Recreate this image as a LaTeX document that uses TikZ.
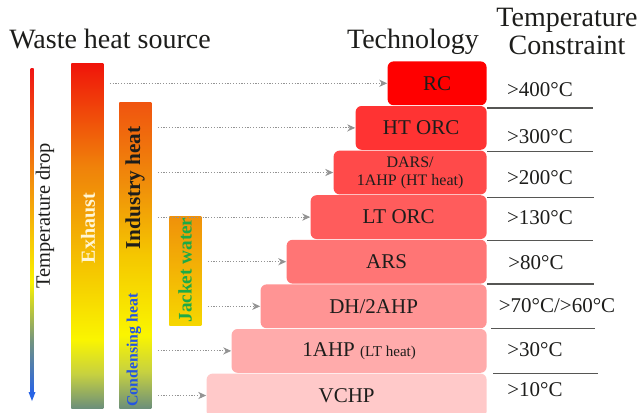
\documentclass[tikz,border=0pt]{standalone}
\usepackage{fontspec}
\setmainfont{Liberation Serif}
\usetikzlibrary{positioning,arrows.meta}
\definecolor{colortext}  {RGB}{29 ,29 ,27 }
\definecolor{colorcream} {RGB}{255,246,214}
\definecolor{colorcond}  {RGB}{35 ,85 ,225}
\definecolor{colorjacket}{RGB}{30 ,170,70 }
\definecolor{colorblue}  {RGB}{40 ,100,230}
\definecolor{colorjtop}  {RGB}{240,145,10 }
\definecolor{colorjbot}  {RGB}{246,215,0  }

% gradients for the heat sources (path is mapped on 25bp..75bp)
\pgfdeclareverticalshading{dropgrad}{100bp}{rgb(0bp)=(0.16,0.39,0.9); rgb(25bp)=(0.16,0.39,0.9); rgb(33bp)=(0.45,0.58,0.5); rgb(42bp)=(0.98,0.95,0); rgb(58bp)=(0.95,0.55,0.05); rgb(75bp)=(0.94,0.08,0.08); rgb(100bp)=(0.94,0.08,0.08)}
\pgfdeclareverticalshading{exhaustgrad}{100bp}{rgb(0bp)=(0.42,0.56,0.48); rgb(25bp)=(0.42,0.56,0.48); rgb(30bp)=(0.78,0.82,0.25); rgb(35bp)=(0.98,0.96,0); rgb(45bp)=(0.96,0.78,0); rgb(60bp)=(0.94,0.51,0.04); rgb(75bp)=(0.94,0.08,0.04); rgb(100bp)=(0.94,0.08,0.04)}
\pgfdeclareverticalshading{industrygrad}{100bp}{rgb(0bp)=(0.42,0.56,0.48); rgb(25bp)=(0.42,0.56,0.48); rgb(31bp)=(0.78,0.82,0.25); rgb(37bp)=(0.98,0.96,0); rgb(50bp)=(0.96,0.78,0); rgb(62bp)=(0.94,0.55,0.04); rgb(75bp)=(0.94,0.33,0.06); rgb(100bp)=(0.94,0.33,0.06)}

\begin{document}
\begin{tikzpicture}[
    x=0.5pt, y=-0.5pt,
    head/.style={text=colortext,font={\fontsize{14}{14}\selectfont},inner sep=0pt},
    bar/.style={inner sep=0pt,minimum width=16pt,anchor=north west},
    bartxt/.style={rotate=90,inner sep=0pt,font={\bfseries}},
    tech/.style={rounded corners=3pt,inner sep=0pt,minimum height=21.9pt,text=colortext,font={\fontsize{10.5}{12}\selectfont},align=center},
    cons/.style={text=colortext,font={\fontsize{10.5}{12}\selectfont},inner sep=0pt},
    rule/.style={draw=colortext!75,line width=0.6pt},
    flow/.style={draw=gray!85,line width=0.45pt,dash pattern=on 0.6pt off 0.8pt,-{Stealth[length=4pt,width=3.6pt]},shorten <=3pt},
]
    \useasboundingbox (0,0) rectangle (640,412);

    % Headings
    \node[head,anchor=base] (srchead)  at (110,48) {Waste heat source};
    \node[head,anchor=base] (techhead) at (413,48) {Technology};
    \node[head,anchor=north,align=center] (conshead) at (567,8) {Temperature\\Constraint};

    % Temperature drop arrow
    \shade[shading=dropgrad] (30.5,68) rectangle (33.5,393);
    \fill[colorblue] (28.5,392) -- (35.5,392) -- (32,401) -- cycle;
    \node[rotate=90,inner sep=0pt,text=colortext,font={\fontsize{10.2}{12}\selectfont}] (droptxt) at (45,216) {Temperature drop};

    % Heat source bars
    \node[bar,shading=exhaustgrad,minimum height=172.5pt] (exhaust) at (71,63) {};
    \node[bar,shading=industrygrad,minimum height=153pt] (industry) at (119,102) {};
    \node[bar,top color=colorjtop,bottom color=colorjbot,minimum height=54.5pt] (jacket) at (169,216) {};
    \node[bartxt,text=colorcream,font={\bfseries\fontsize{10}{12}\selectfont}] (exhausttxt) at (88,228) {Exhaust};
    \node[bartxt,text=colortext,font={\bfseries\fontsize{10.6}{12}\selectfont}] (industrytxt) at (135,188) {Industry heat};
    \node[bartxt,text=colorcond,font={\bfseries\fontsize{7.9}{10}\selectfont}] (condtxt) at (134,350) {Condensing heat};
    \node[bartxt,text=colorjacket,font={\bfseries\fontsize{9.6}{12}\selectfont}] (jackettxt) at (185,270) {Jacket water};

    % Technology stair
    \node[tech,fill=red,minimum width=49.5pt,anchor=north east] (rc) at (487,61) {RC};
    \node[tech,fill=red!80,minimum width=65.5pt,below left=0pt of rc.south east] (htorc) {HT ORC};
    \node[tech,fill=red!71,minimum width=76.5pt,below left=0pt of htorc.south east,font={\fontsize{8}{9}\selectfont}] (dars) {DARS/\\1AHP (HT heat)};
    \node[tech,fill=red!64,minimum width=88pt,below left=0pt of dars.south east] (ltorc) {LT ORC};
    \node[tech,fill=red!54,minimum width=100pt,below left=0pt of ltorc.south east] (ars) {ARS};
    \node[tech,fill=red!42,minimum width=113pt,below left=0pt of ars.south east] (dh) {DH/2AHP};
    \node[tech,fill=red!33,minimum width=127.5pt,below left=0pt of dh.south east] (ahp) {1AHP {\fontsize{7.5}{9}\selectfont(LT heat)}};
    \node[tech,fill=red!21,minimum width=140pt,below left=0pt of ahp.south east] (vchp) {VCHP};

    % Source to technology
    \draw[flow] (exhaust.east |- rc.west) -- (rc.west);
    \draw[flow] (industry.east |- htorc.west) -- (htorc.west);
    \draw[flow] (industry.east |- dars.west) -- (dars.west);
    \draw[flow] (industry.east |- ltorc.west) -- (ltorc.west);
    \draw[flow] (jacket.east |- ars.west) -- (ars.west);
    \draw[flow] (jacket.east |- dh.west) -- (dh.west);
    \draw[flow] (industry.east |- ahp.west) -- (ahp.west);
    \draw[flow] (industry.east |- vchp.west) -- (vchp.west);

    % Temperature constraints
    \node[cons] (c400) at (540,90) {>400°C};
    \node[cons] (c300) at (540,137) {>300°C};
    \node[cons] (c200) at (540,178) {>200°C};
    \node[cons] (c130) at (540,218) {>130°C};
    \node[cons] (c80)  at (536,263) {>80°C};
    \node[cons] (c70)  at (557,306) {>70°C/>60°C};
    \node[cons] (c30)  at (535,350) {>30°C};
    \node[cons] (c10)  at (535,390) {>10°C};
    \draw[rule] ([yshift=-1.2pt]rc.south east) -- ++(106,0);
    \draw[rule] ([yshift=-0.8pt]htorc.south east) -- ++(106,0);
    \draw[rule] ([yshift=-1.5pt]dars.south east) -- ++(107,0);
    \draw[rule] ([yshift=-0.5pt]ltorc.south east) -- ++(106,0);
    \draw[rule] (ars.south east) -- ++(107,0);
    \draw[rule] ([xshift=2pt]dh.south east) -- ++(104,0);
    \draw[rule] ([xshift=3pt]ahp.south east) -- ++(105,0);
    \draw[rule] ([xshift=3pt,yshift=1pt]vchp.south east) -- ++(105,0);

\end{tikzpicture}
\end{document}
